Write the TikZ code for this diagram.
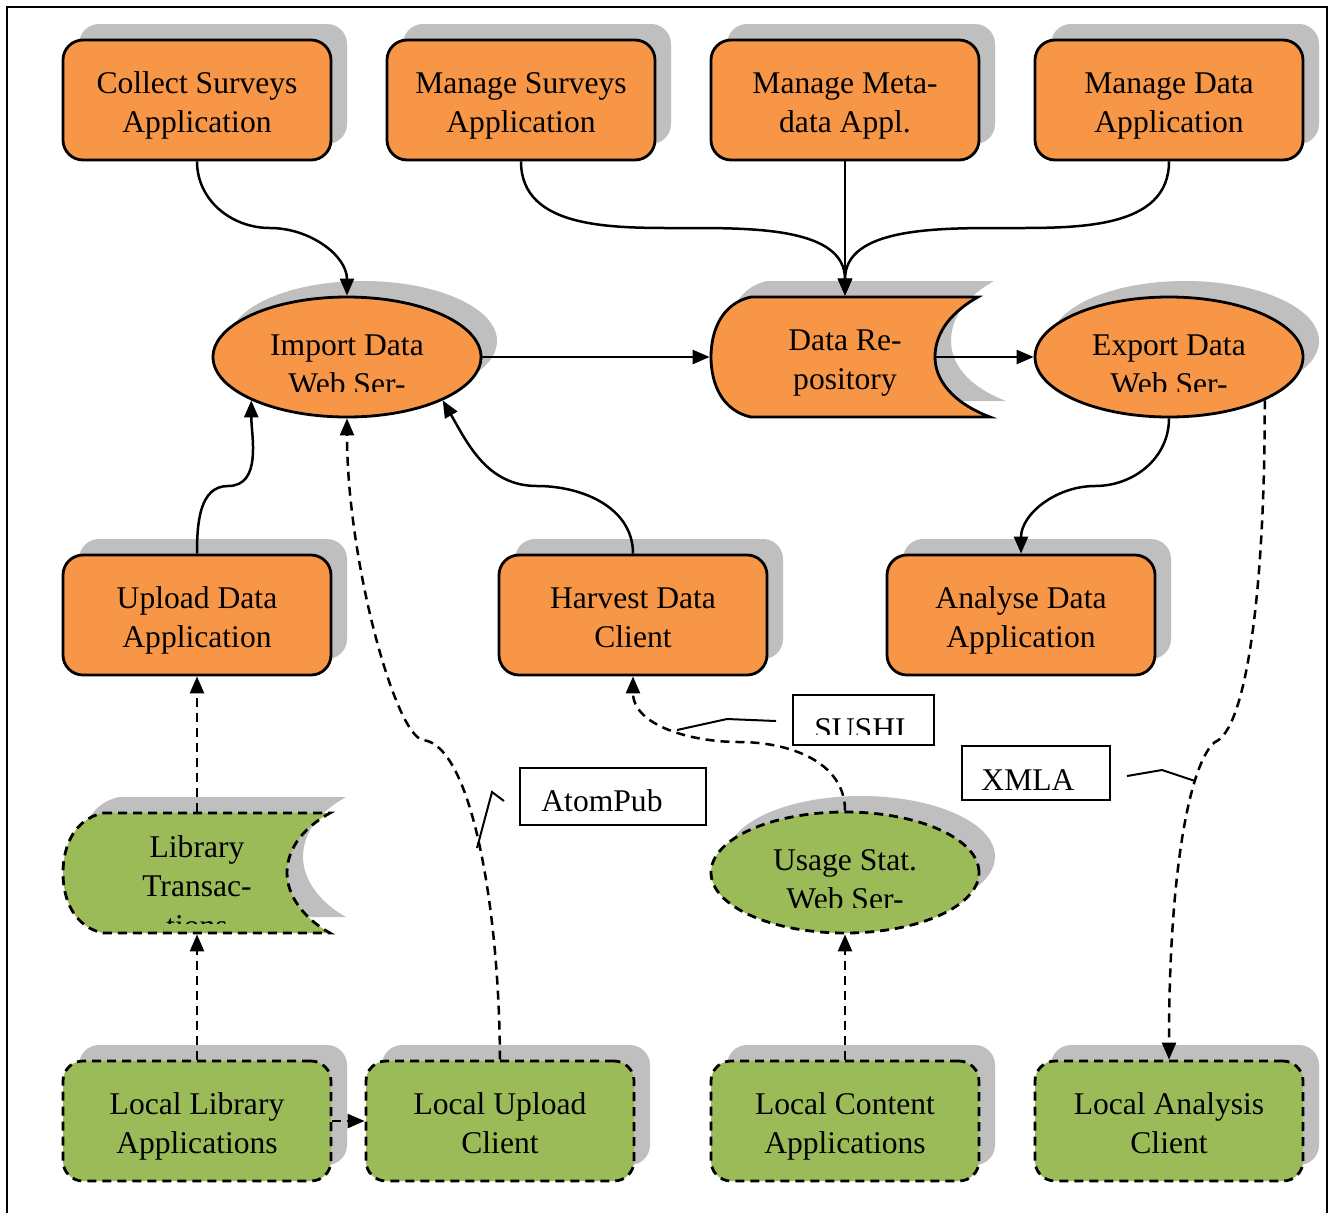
\documentclass[tikz,border=0pt]{standalone}
\usepackage{fontspec}
\setmainfont{Liberation Serif}
\usetikzlibrary{arrows.meta,shapes.geometric,shadows}
\definecolor{orng}{HTML}{F79646}
\definecolor{grn}{HTML}{9BBB59}
\definecolor{shgray}{HTML}{BFBFBF}
\newcommand\storedpath[1]{(40,0) -- (267,0) .. controls (235,18) and (224,40) .. (224,60) .. controls (224,82) and (240,105) .. (#1,120) -- (40,120) .. controls (12,114) and (0,88) .. (0,60) .. controls (0,32) and (12,6) .. (40,0) -- cycle}
\tikzset{
  basesh/.style={line width=2.8pt, inner sep=0pt, minimum width=268pt, minimum height=120pt},
  shad/.style={drop shadow={shadow xshift=16pt, shadow yshift=16pt, fill=shgray, opacity=1}},
  gdash/.style={dash pattern=on 9pt off 6pt},
  obox/.style={basesh, rectangle, rounded corners=20pt, draw, fill=orng, shad},
  gbox/.style={basesh, rectangle, rounded corners=20pt, draw, gdash, fill=grn, shad},
  oell/.style={basesh, ellipse, draw, fill=orng, shad},
  gell/.style={basesh, ellipse, draw, gdash, fill=grn, shad},
  anchorbox/.style={basesh, rectangle},
  txt/.style={font=\fontsize{31.6}{39.5}\selectfont, align=center, inner sep=0pt},
  conn/.style={line width=2.5pt, -{Triangle[length=17pt,width=14pt]}},
  dconn/.style={conn, gdash},
  lbl/.style={draw, line width=2pt, rectangle, inner sep=0pt},
  callout/.style={line width=2pt},
}
\begin{document}
\begin{tikzpicture}[x=1pt,y=-1pt]
\useasboundingbox (0,0) rectangle (1332,1213);
% frame
\draw[line width=2.6pt] (7,1213) -- (7,7) -- (1327,7) -- (1327,1213);

% top row
\node[obox] (cs) at (197,100) {};
\node[txt] (cs-t) at (197,105) {Collect Surveys\strut\\Application\strut};
\node[obox] (ms) at (521,100) {};
\node[txt] (ms-t) at (521,105) {Manage Surveys\strut\\Application\strut};
\node[obox] (mm) at (845,100) {};
\node[txt] (mm-t) at (845,105) {Manage Meta-\strut\\data Appl.\strut};
\node[obox] (md) at (1169,100) {};
\node[txt] (md-t) at (1169,105) {Manage Data\strut\\Application\strut};

% import ellipse
\node[oell] (imp) at (347,357) {};
\begin{scope}
  \clip (213,300) rectangle (481,391);
  \node[txt] (imp-t) at (347,367) {Import Data\strut\\Web Ser-\strut};
\end{scope}

% data repository
\begin{scope}[shift={(727,281)}] \fill[shgray] \storedpath{279}; \end{scope}
\begin{scope}[shift={(711,297)}] \draw[line width=2.8pt, fill=orng] \storedpath{279}; \end{scope}
\node[anchorbox] (repo) at (845,357) {};
\coordinate (repo-c) at (935,357);
\node[txt] (repo-t) at (845,362) {Data Re-\strut\\pository\strut};

% export ellipse
\node[oell] (exp) at (1169,357) {};
\begin{scope}
  \clip (1035,300) rectangle (1303,391);
  \node[txt] (exp-t) at (1169,367) {Export Data\strut\\Web Ser-\strut};
\end{scope}

% second row
\node[obox] (up) at (197,615) {};
\node[txt] (up-t) at (197,620) {Upload Data\strut\\Application\strut};
\node[obox] (hv) at (633,615) {};
\node[txt] (hv-t) at (633,620) {Harvest Data\strut\\Client\strut};
\node[obox] (an) at (1021,615) {};
\node[txt] (an-t) at (1021,620) {Analyse Data\strut\\Application\strut};

% library transactions
\begin{scope}[shift={(79,797)}] \fill[shgray] \storedpath{267}; \end{scope}
\begin{scope}[shift={(63,813)}] \draw[line width=2.8pt, gdash, fill=grn] \storedpath{267}; \end{scope}
\node[anchorbox] (lib) at (197,873) {};
\begin{scope}
  \clip (63,815) rectangle (331,923);
  \node[txt] (lib-t) at (197,888.6) {Library\strut\\Transac-\strut\\tions\strut};
\end{scope}

% usage stat
\node[gell, minimum height=121pt] (us) at (845,872.5) {};
\begin{scope}
  \clip (711,815) rectangle (979,907);
  \node[txt] (us-t) at (845,882) {Usage Stat.\strut\\Web Ser-\strut};
\end{scope}

% bottom row
\node[gbox] (ll) at (197,1121) {};
\node[txt] (ll-t) at (197,1126) {Local Library\strut\\Applications\strut};
\node[gbox] (lu) at (500,1121) {};
\node[txt] (lu-t) at (500,1126) {Local Upload\strut\\Client\strut};
\node[gbox] (lc) at (845,1121) {};
\node[txt] (lc-t) at (845,1126) {Local Content\strut\\Applications\strut};
\node[gbox] (la) at (1169,1121) {};
\node[txt] (la-t) at (1169,1126) {Local Analysis\strut\\Client\strut};

% label boxes
\node[lbl, minimum width=141pt, minimum height=50pt] (sushi) at (863.5,720) {};
\begin{scope}
  \clip (795,697) rectangle (932,734);
  \node[txt, anchor=base] (sushi-t) at (860,739) {SUSHI};
\end{scope}
\node[lbl, minimum width=186pt, minimum height=57pt] (atom) at (613,796.5) {};
\node[txt, anchor=base] (atom-t) at (602,811) {AtomPub};
\node[lbl, minimum width=148pt, minimum height=54pt] (xmla) at (1036,773) {};
\node[txt, anchor=base] (xmla-t) at (1028,790) {XMLA};

% solid connectors
\draw[conn] (cs.south) to[out=-90,in=180] (270,228) to[out=0,in=90] (imp.north);
\draw[conn] (ms.south) to[out=-90,in=180] (683,228) to[out=0,in=90] (repo.north);
\draw[conn] (mm.south) -- (repo.north);
\draw[conn] (md.south) to[out=-90,in=0] (1007,228) to[out=180,in=90] (repo.north);
\draw[conn] (imp.east) -- (repo.west);
\draw[conn] (repo-c) -- (exp.west);
\draw[conn] (exp.south) to[out=-90,in=0] (1095,486) to[out=180,in=90] (an.north);
\draw[conn] (up.north) to[out=90,in=180] (228,486) to[out=0,in=-90] (imp.south west);
\draw[conn] (hv.north) to[out=90,in=0] (537,486) to[out=180,in=-60] (imp.south east);

% dashed connectors
\draw[dconn] (lu.north) .. controls (499,900) and (470,745) .. (423,740) .. controls (395,735) and (347,560) .. (imp.south);
\draw[dconn] (us.north) to[out=90,in=0] (739,742) to[out=180,in=-90] (hv.south);
\draw[dconn] (exp.south east) .. controls (1265,600) and (1245,730) .. (1215,742) .. controls (1192,760) and (1169,860) .. (la.north);
\draw[dconn] (lib.north) -- (up.south);
\draw[dconn] (ll.north) -- (lib.south);
\draw[dconn] (lc.north) -- (us.south);
\draw[dconn] (ll.east) -- (lu.west);

% callouts
\coordinate (sushi-p) at (677,730);
\coordinate (atom-p) at (477,848);
\coordinate (xmla-p) at (1195,781);
\draw[callout] ([xshift=-16pt,yshift=-1pt]sushi.west) -- (727,719) -- (sushi-p);
\draw[callout] ([xshift=-15pt,yshift=-4.5pt]atom.west) -- (492,792) -- (atom-p);
\draw[callout] ([xshift=16pt,yshift=-3pt]xmla.east) -- (1162,770) -- (xmla-p);
\end{tikzpicture}
\end{document}
